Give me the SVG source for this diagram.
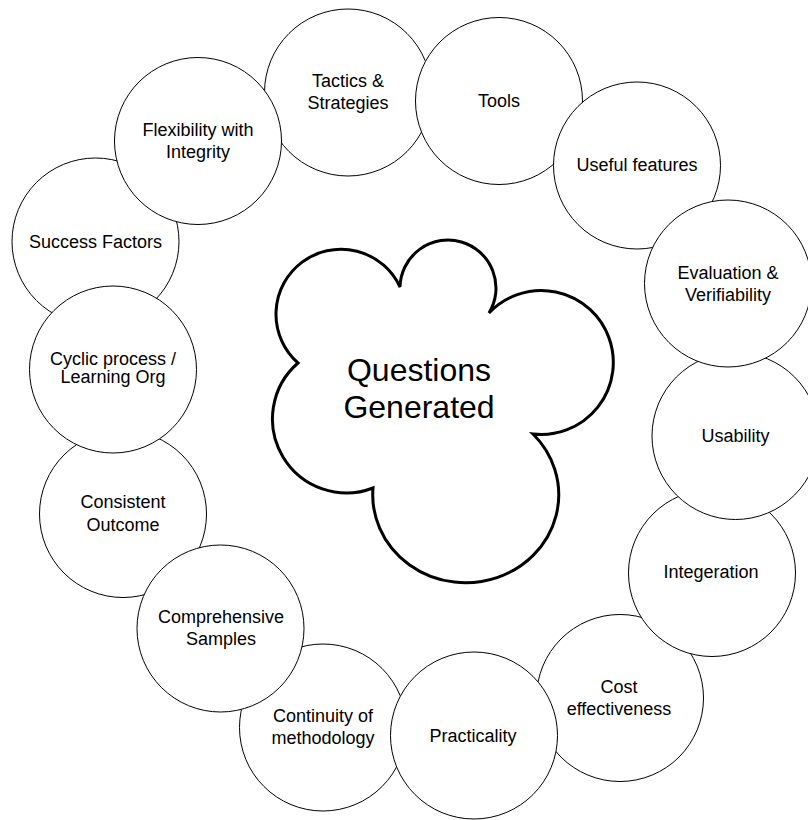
<svg xmlns="http://www.w3.org/2000/svg" width="808" height="820" viewBox="0 0 808 820">
<style>
.c{fill:#fff;stroke:#000;stroke-width:1}
.t{font-family:"Liberation Sans",Arial,sans-serif;font-size:18px;fill:#000;text-anchor:middle}
.q{font-family:"Liberation Sans",Arial,sans-serif;font-size:32px;fill:#000;text-anchor:middle}
.cloud{fill:#fff;stroke:#000;stroke-width:3;stroke-linejoin:miter}
</style>
<rect width="808" height="820" fill="#fff"/>
<g id="connectors"></g>
<g id="n-tactics"><circle class="c" cx="348" cy="92.5" r="83.5"/><text class="t" x="348" y="87">Tactics &amp;</text><text class="t" x="348" y="109">Strategies</text></g>
<g id="n-success"><circle class="c" cx="95.5" cy="241.5" r="83.5"/><text class="t" x="95.5" y="248">Success Factors</text></g>
<g id="n-consistent"><circle class="c" cx="123" cy="514" r="83.5"/><text class="t" x="123" y="508">Consistent</text><text class="t" x="123" y="531">Outcome</text></g>
<g id="n-continuity"><circle class="c" cx="323" cy="727.5" r="83.5"/><text class="t" x="323" y="722">Continuity of</text><text class="t" x="323" y="744">methodology</text></g>
<g id="n-cost"><circle class="c" cx="620" cy="698" r="83.5"/><text class="t" x="619" y="693">Cost</text><text class="t" x="619" y="715">effectiveness</text></g>
<g id="n-tools"><circle class="c" cx="499" cy="101" r="83.5"/><text class="t" x="499" y="107">Tools</text></g>
<g id="n-flexibility"><circle class="c" cx="198" cy="141" r="83.5"/><text class="t" x="198" y="136">Flexibility with</text><text class="t" x="198" y="158">Integrity</text></g>
<g id="n-cyclic"><circle class="c" cx="113" cy="369.5" r="83.5"/><text class="t" x="113" y="365">Cyclic process /</text><text class="t" x="113" y="383">Learning Org</text></g>
<g id="n-comprehensive"><circle class="c" cx="220.5" cy="628.5" r="83.5"/><text class="t" x="221" y="623">Comprehensive</text><text class="t" x="221" y="645">Samples</text></g>
<g id="n-practicality"><circle class="c" cx="474" cy="735.5" r="83.5"/><text class="t" x="473" y="742">Practicality</text></g>
<g id="n-integeration"><circle class="c" cx="712" cy="573" r="83.5"/><text class="t" x="711" y="578">Integeration</text></g>
<g id="n-useful"><circle class="c" cx="637" cy="165.5" r="83.5"/><text class="t" x="637" y="171">Useful features</text></g>
<g id="n-usability"><circle class="c" cx="735.5" cy="436" r="83.5"/><text class="t" x="735.5" y="442">Usability</text></g>
<g id="n-evaluation"><circle class="c" cx="728" cy="283.5" r="83.5"/><text class="t" x="728" y="279">Evaluation &amp;</text><text class="t" x="728" y="301">Verifiability</text></g>
<g id="n-questions">
<path class="cloud" d="M298,363 A65,65 0 1 1 400,287 A48,48 0 1 1 489,313 A72,72 0 1 1 533,434 A93,88 0 1 1 373,488 A74,74 0 0 1 298,363 Z"/>
<text class="q" x="419" y="381">Questions</text>
<text class="q" x="419" y="418">Generated</text>
</g>
</svg>
